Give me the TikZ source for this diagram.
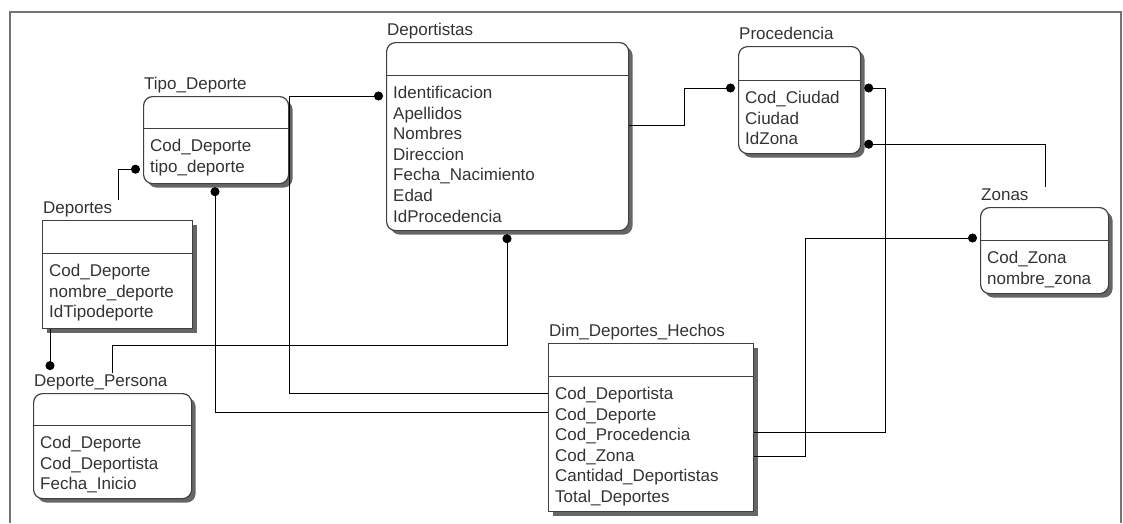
\documentclass[tikz,border=0pt]{standalone}
\usepackage{fontspec}
\setmainfont{Liberation Sans}
\usetikzlibrary{arrows.meta,shadows}

\begin{document}
\begin{tikzpicture}[x=1pt, y=-1pt, font=\fontsize{17}{20.6}\selectfont,
    tabla/.style={draw=black!75, line width=1.2pt, fill=white, rounded corners=9pt, anchor=north west, inner sep=0pt, drop shadow={shadow xshift=4pt, shadow yshift=-4pt, fill=black!60, opacity=1}},
    plana/.style={tabla, sharp corners},
    titulo/.style={anchor=base west, inner sep=1pt, text=black!80},
    campos/.style={anchor=north west, align=left, inner xsep=7pt, inner ysep=11pt, text=black!80},
    divisor/.style={draw=black!75, line width=1pt},
    rel/.style={-, draw=black, line width=0.9pt},
    relfin/.style={-{Circle[length=9pt]}, shorten >=3pt},
    relini/.style={{Circle[length=9pt]}-, shorten <=3pt}
]
\useasboundingbox (0,0) rectangle (1123,523);

% Marco
\draw[draw=black!55, line width=1.2pt] (10,523) |- (1121,12) -- (1121,523);

% Tablas
\node[tabla, minimum width=145pt, minimum height=87pt] (tipo) at (143,96) {};
\node[titulo] (tipo-t) at ([yshift=7pt]tipo.north west) {Tipo\_Deporte};
\node[campos] (tipo-c) at ([yshift=-32pt]tipo.north west) {Cod\_Deporte\\tipo\_deporte};
\draw[divisor] (tipo.west |- tipo-c.north) -- (tipo.east |- tipo-c.north);

\node[plana, minimum width=150pt, minimum height=108pt] (deportes) at (42,220) {};
\node[titulo] (deportes-t) at ([yshift=7pt]deportes.north west) {Deportes};
\node[campos] (deportes-c) at ([yshift=-33pt]deportes.north west) {Cod\_Deporte\\nombre\_deporte\\IdTipodeporte};
\draw[divisor] (deportes.west |- deportes-c.north) -- (deportes.east |- deportes-c.north);

\node[tabla, minimum width=242pt, minimum height=188pt] (deportistas) at (386,42) {};
\node[titulo] (deportistas-t) at ([yshift=7pt]deportistas.north west) {Deportistas};
\node[campos] (deportistas-c) at ([yshift=-33pt]deportistas.north west) {Identificacion\\Apellidos\\Nombres\\Direccion\\Fecha\_Nacimiento\\Edad\\IdProcedencia};
\draw[divisor] (deportistas.west |- deportistas-c.north) -- (deportistas.east |- deportistas-c.north);

\node[tabla, minimum width=122pt, minimum height=107pt] (procedencia) at (738,46) {};
\node[titulo] (procedencia-t) at ([yshift=7pt]procedencia.north west) {Procedencia};
\node[campos] (procedencia-c) at ([yshift=-34pt]procedencia.north west) {Cod\_Ciudad\\Ciudad\\IdZona};
\draw[divisor] (procedencia.west |- procedencia-c.north) -- (procedencia.east |- procedencia-c.north);

\node[tabla, minimum width=128pt, minimum height=86pt] (zonas) at (980,207) {};
\node[titulo] (zonas-t) at ([yshift=7pt]zonas.north west) {Zonas};
\node[campos] (zonas-c) at ([yshift=-33pt]zonas.north west) {Cod\_Zona\\nombre\_zona};
\draw[divisor] (zonas.west |- zonas-c.north) -- (zonas.east |- zonas-c.north);

\node[plana, minimum width=205pt, minimum height=168pt] (hechos) at (548,343) {};
\node[titulo] (hechos-t) at ([yshift=7pt]hechos.north west) {Dim\_Deportes\_Hechos};
\node[campos] (hechos-c) at ([yshift=-33pt]hechos.north west) {Cod\_Deportista\\Cod\_Deporte\\Cod\_Procedencia\\Cod\_Zona\\Cantidad\_Deportistas\\Total\_Deportes};
\draw[divisor] (hechos.west |- hechos-c.north) -- (hechos.east |- hechos-c.north);

\node[tabla, minimum width=158pt, minimum height=105pt] (dp) at (33,393) {};
\node[titulo] (dp-t) at ([yshift=7pt]dp.north west) {Deporte\_Persona};
\node[campos] (dp-c) at ([yshift=-32pt]dp.north west) {Cod\_Deporte\\Cod\_Deportista\\Fecha\_Inicio};
\draw[divisor] (dp.west |- dp-c.north) -- (dp.east |- dp-c.north);

% Relaciones
\draw[rel, relfin] ([xshift=76pt]deportes-t.north west) |- ([yshift=15pt]tipo.south west);
\draw[rel, relini] ([xshift=72pt]tipo.south west) |- ([yshift=-69pt]hechos.north west);
\draw[rel, relfin] ([yshift=-50pt]hechos.north west) -| (tipo.north east) -- ([yshift=-54pt]deportistas.north west);
\draw[rel, relini] ([xshift=121pt]deportistas.south west) |- ([xshift=79pt, yshift=28pt]dp-t.north west) -- ([xshift=79pt]dp-t.north west);
\draw[rel, relfin] ([yshift=-83pt]deportistas.north east) -- ++(55,0) |- ([yshift=-42pt]procedencia.north west);
\draw[rel, relini] ([yshift=-42pt]procedencia.north east) -- ++(24,0) |- ([yshift=-89pt]hechos.north east);
\draw[rel, relini] ([yshift=10pt]procedencia.south east) -| ([xshift=65pt]zonas-t.north west);
\draw[rel, relfin] ([yshift=-113pt]hechos.north east) -- ++(51,0) |- ([yshift=-31pt]zonas.north west);
\draw[rel, relfin] ([xshift=8pt]deportes.south west) -- ([xshift=17pt]dp-t.north west);

\end{tikzpicture}
\end{document}
